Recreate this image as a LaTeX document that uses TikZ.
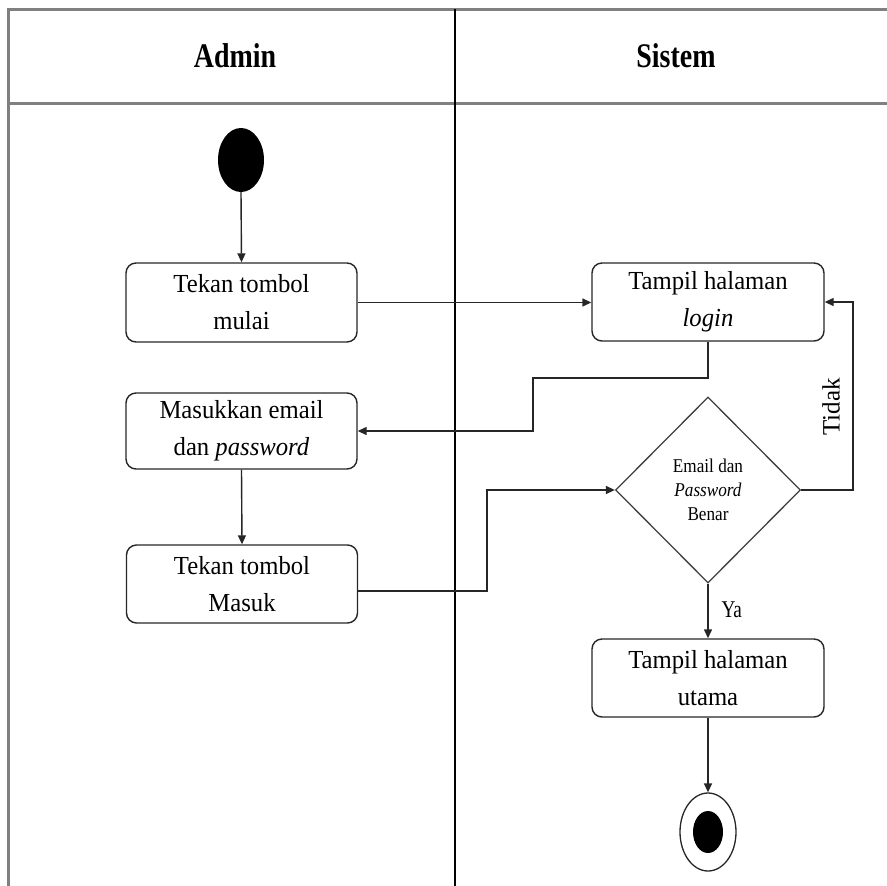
\documentclass[tikz,border=0pt]{standalone}
\usepackage{fontspec}
\setmainfont{Liberation Serif}
\newfontfamily\boxfont{Liberation Serif}[FakeStretch=0.95]
\newfontfamily\diafont{Liberation Serif}[FakeStretch=0.88]
\newfontfamily\headfont{Liberation Serif}[FakeStretch=0.81]
\newfontfamily\yafont{Liberation Serif}[FakeStretch=0.8]
\usetikzlibrary{shapes.geometric,arrows.meta}
\begin{document}
\begin{tikzpicture}[x=1pt,y=-1pt,
  frame/.style={line width=3pt,black!50},
  lane/.style={line width=1.2pt,black},
  actbox/.style={draw=black!85,line width=1.4pt,rounded corners=10pt,minimum width=231pt,inner sep=0pt,align=center,font=\boxfont\fontsize{26}{37}\selectfont},
  decision/.style={draw=black!75,line width=1.3pt,diamond,aspect=1,minimum width=185pt,minimum height=186pt,inner sep=0pt,align=center,font=\diafont\fontsize{19.5}{24}\selectfont},
  arr/.style={draw=black!85,line width=1.4pt,-{Triangle[length=9pt,width=8pt]}},
  head/.style={font=\headfont\bfseries\fontsize{34.5}{40}\selectfont,anchor=base}
]
\useasboundingbox (0,0) rectangle (887,886);
% frame
\draw[frame] (8,886) -- (8,9) -- (887,9);
\draw[frame] (8,103) -- (887,103);
\draw[lane] (455,9) -- (455,886);
\node[head] (hadmin) at (235,67) {Admin};
\node[head] (hsistem) at (676,67) {Sistem};
% nodes
\node[ellipse,fill=black,minimum width=46pt,minimum height=64pt,inner sep=0pt] (start) at (241,160) {};
\node[actbox,minimum height=79pt] (b1) at (241.5,302.5) {Tekan tombol\\mulai};
\node[actbox,minimum height=76pt] (b2) at (241.5,431) {Masukkan email\\dan \textit{password}};
\node[actbox,minimum height=78pt] (b3) at (242,584) {Tekan tombol\\Masuk};
\node[actbox,minimum width=232pt,minimum height=78pt] (login) at (708,302) {Tampil halaman\\\textit{login}};
\node[decision] (dia) at (708,490) {Email dan\\\textit{Password}\\Benar};
\node[actbox,minimum width=232pt,minimum height=78pt] (utama) at (708,678) {Tampil halaman\\utama};
\node[ellipse,draw=black!85,line width=1.3pt,minimum width=56pt,minimum height=78pt,inner sep=0pt] (end) at (708,832) {};
\node[ellipse,fill=black,minimum width=30pt,minimum height=42pt,inner sep=0pt] (endin) at (end.center) {};
% connectors
\draw[arr] (start.south) -- (b1.north);
\draw[arr] (b1.east) -- (b1.east -| login.west);
\draw[arr] (login.south) |- (533,378) |- (b2.east);
\draw[arr] (b2.south) -- (b3.north);
\draw[arr] ([yshift=-7pt]b3.east) -| (487,490) -- (dia.west);
\draw[arr] (dia.east) -- (853,490) |- (login.east);
\draw[arr] (dia.south) -- (utama.north);
\draw[arr] (utama.south) -- (end.north);
% labels
\node[font=\yafont\fontsize{24}{28}\selectfont,anchor=base west] (lya) at (718,617) {Ya};
\node[font=\fontsize{25}{30}\selectfont,rotate=90] (ltidak) at (831,407) {Tidak};
\end{tikzpicture}
\end{document}
